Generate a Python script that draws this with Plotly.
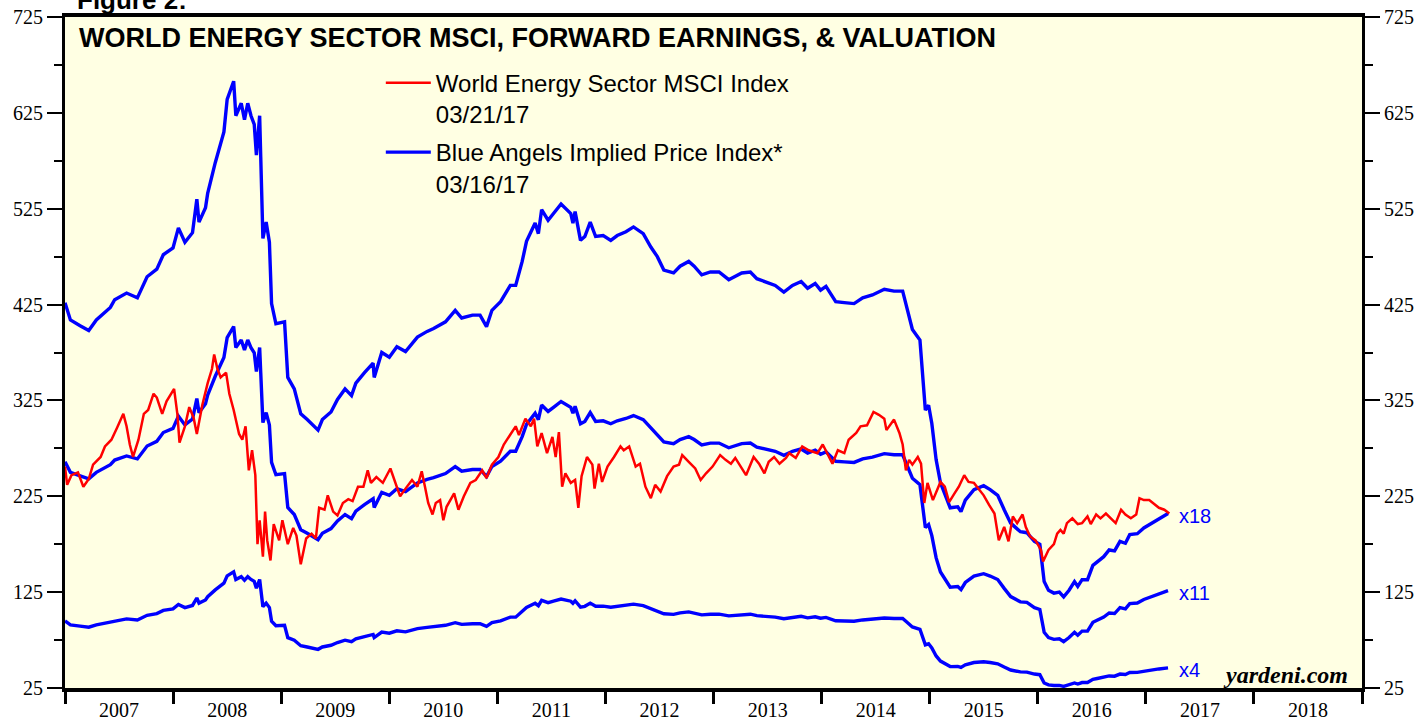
import datetime as dt
import plotly.graph_objects as go

# ---------------- data ----------------
# Blue Angels implied price index at 18x forward earnings (index units), decimal years
blue_t = [2007.00, 2007.05, 2007.14, 2007.22, 2007.29, 2007.42, 2007.46, 2007.57, 2007.67, 2007.76,
          2007.85, 2007.91, 2008.00, 2008.05, 2008.11, 2008.18, 2008.22, 2008.24, 2008.30, 2008.32,
          2008.39, 2008.47, 2008.50, 2008.56, 2008.58, 2008.63, 2008.66, 2008.69, 2008.72, 2008.75,
          2008.77, 2008.80, 2008.81, 2008.83, 2008.86, 2008.89, 2008.91, 2008.95, 2009.03, 2009.06,
          2009.12, 2009.18, 2009.24, 2009.34, 2009.38, 2009.46, 2009.52, 2009.59, 2009.65, 2009.69,
          2009.77, 2009.85, 2009.86, 2009.93, 2010.00, 2010.07, 2010.15, 2010.26, 2010.35, 2010.41,
          2010.52, 2010.61, 2010.67, 2010.77, 2010.84, 2010.90, 2010.95, 2011.03, 2011.12, 2011.17,
          2011.23, 2011.27, 2011.35, 2011.38, 2011.41, 2011.47, 2011.52, 2011.59, 2011.68, 2011.70,
          2011.72, 2011.77, 2011.81, 2011.86, 2011.91, 2011.98, 2012.05, 2012.11, 2012.19, 2012.26,
          2012.35, 2012.42, 2012.48, 2012.54, 2012.63, 2012.69, 2012.77, 2012.82, 2012.89, 2012.97,
          2013.05, 2013.14, 2013.26, 2013.34, 2013.40, 2013.48, 2013.57, 2013.65, 2013.73, 2013.81,
          2013.87, 2013.94, 2013.99, 2014.04, 2014.13, 2014.21, 2014.30, 2014.38, 2014.47, 2014.58,
          2014.67, 2014.75, 2014.78, 2014.84, 2014.91, 2014.93, 2014.96, 2014.99, 2015.02, 2015.06,
          2015.10, 2015.19, 2015.26, 2015.29, 2015.33, 2015.41, 2015.50, 2015.56, 2015.63, 2015.69,
          2015.75, 2015.84, 2015.90, 2015.97, 2016.02, 2016.06, 2016.10, 2016.15, 2016.20, 2016.24,
          2016.29, 2016.34, 2016.37, 2016.41, 2016.46, 2016.51, 2016.55, 2016.61, 2016.66, 2016.71,
          2016.76, 2016.81, 2016.85, 2016.92, 2016.98, 2017.05, 2017.12, 2017.204]
blue_x18 = [427, 409, 403, 398, 409, 422, 430, 437, 432, 454,
            462, 477, 484, 505, 490, 500, 535, 511, 526, 541,
            573, 605, 639, 658, 622, 635, 618, 635, 622, 613,
            581, 622, 579, 494, 511, 490, 426, 405, 407, 349,
            337, 311, 305, 294, 305, 313, 326, 337, 330, 343,
            354, 364, 349, 375, 370, 381, 376, 391, 397, 400,
            407, 419, 411, 414, 414, 402, 419, 428, 445, 445,
            470, 491, 510, 499, 524, 513, 520, 530, 520, 510,
            522, 492, 496, 511, 496, 497, 492, 497, 501, 506,
            499, 485, 475, 461, 458, 465, 470, 465, 456, 459,
            459, 451, 458, 459, 452, 449, 445, 438, 445, 449,
            442, 447, 440, 444, 428, 427, 426, 432, 435, 441,
            439, 439, 426, 399, 388, 357, 315, 320, 301, 263,
            239, 213, 214, 209, 221, 232, 236, 232, 226, 211,
            197, 188, 187, 178, 175, 136, 127, 124, 125, 120,
            127, 136, 131, 138, 138, 153, 157, 162, 169, 168,
            178, 176, 185, 186, 192, 197, 202, 207]
multipliers = [18, 11, 4]
mult_labels = ["x18", "x11", "x4"]

# World Energy Sector MSCI index
red_t = [2007.00, 2007.02, 2007.06, 2007.12, 2007.17, 2007.22, 2007.26, 2007.33, 2007.37, 2007.43,
         2007.48, 2007.54, 2007.57, 2007.60, 2007.63, 2007.68, 2007.73, 2007.77, 2007.82, 2007.85,
         2007.90, 2007.94, 2008.01, 2008.04, 2008.06, 2008.11, 2008.15, 2008.19, 2008.22, 2008.27,
         2008.32, 2008.36, 2008.38, 2008.41, 2008.44, 2008.49, 2008.52, 2008.56, 2008.61, 2008.64,
         2008.67, 2008.70, 2008.73, 2008.76, 2008.78, 2008.80, 2008.83, 2008.85, 2008.87, 2008.90,
         2008.93, 2008.98, 2009.01, 2009.06, 2009.11, 2009.14, 2009.18, 2009.23, 2009.28, 2009.32,
         2009.35, 2009.40, 2009.43, 2009.48, 2009.52, 2009.57, 2009.62, 2009.66, 2009.71, 2009.76,
         2009.80, 2009.83, 2009.88, 2009.94, 2010.01, 2010.06, 2010.10, 2010.15, 2010.21, 2010.26,
         2010.30, 2010.33, 2010.36, 2010.40, 2010.43, 2010.47, 2010.50, 2010.53, 2010.60, 2010.64,
         2010.69, 2010.75, 2010.80, 2010.86, 2010.90, 2010.95, 2011.01, 2011.06, 2011.10, 2011.17,
         2011.20, 2011.26, 2011.31, 2011.34, 2011.37, 2011.41, 2011.46, 2011.51, 2011.54, 2011.57,
         2011.60, 2011.63, 2011.68, 2011.72, 2011.75, 2011.78, 2011.83, 2011.88, 2011.90, 2011.94,
         2011.97, 2012.02, 2012.08, 2012.14, 2012.17, 2012.22, 2012.28, 2012.32, 2012.37, 2012.42,
         2012.46, 2012.51, 2012.57, 2012.63, 2012.68, 2012.71, 2012.77, 2012.83, 2012.88, 2012.93,
         2012.99, 2013.06, 2013.11, 2013.16, 2013.20, 2013.30, 2013.37, 2013.42, 2013.47, 2013.51,
         2013.56, 2013.61, 2013.67, 2013.70, 2013.76, 2013.82, 2013.88, 2013.96, 2014.01, 2014.05,
         2014.10, 2014.15, 2014.21, 2014.25, 2014.32, 2014.36, 2014.42, 2014.48, 2014.53, 2014.58,
         2014.60, 2014.67, 2014.72, 2014.75, 2014.78, 2014.81, 2014.84, 2014.89, 2014.92, 2014.95,
         2014.98, 2015.03, 2015.07, 2015.10, 2015.14, 2015.18, 2015.23, 2015.27, 2015.32, 2015.36,
         2015.41, 2015.46, 2015.50, 2015.55, 2015.60, 2015.64, 2015.69, 2015.73, 2015.77, 2015.81,
         2015.86, 2015.89, 2015.93, 2015.98, 2016.03, 2016.05, 2016.10, 2016.15, 2016.18, 2016.21,
         2016.24, 2016.27, 2016.32, 2016.37, 2016.41, 2016.46, 2016.49, 2016.54, 2016.58, 2016.63,
         2016.68, 2016.72, 2016.77, 2016.81, 2016.86, 2016.91, 2016.94, 2016.98, 2017.03, 2017.08,
         2017.12, 2017.17, 2017.216]
red_v = [256, 237, 247, 250, 235, 243, 258, 266, 277, 284,
         296, 311, 298, 279, 266, 284, 311, 315, 332, 328,
         311, 324, 337, 311, 281, 298, 318, 307, 290, 320,
         343, 358, 373, 358, 349, 354, 332, 315, 290, 284,
         298, 252, 273, 247, 175, 200, 162, 209, 179, 158,
         196, 179, 200, 175, 192, 184, 154, 181, 186, 181,
         213, 211, 226, 209, 205, 218, 222, 220, 235, 235,
         252, 239, 245, 239, 254, 239, 225, 233, 242, 235,
         251, 235, 218, 206, 218, 221, 200, 214, 228, 211,
         225, 239, 242, 252, 244, 258, 266, 279, 286, 298,
         289, 306, 298, 306, 277, 291, 270, 287, 266, 292,
         235, 249, 239, 242, 213, 246, 266, 258, 233, 259,
         240, 256, 266, 277, 273, 277, 256, 259, 235, 223,
         237, 230, 246, 256, 258, 268, 261, 254, 242, 249,
         256, 268, 263, 259, 265, 247, 266, 259, 249, 261,
         266, 259, 265, 270, 265, 277, 273, 270, 279, 270,
         259, 273, 270, 284, 291, 298, 299, 313, 310, 306,
         294, 305, 291, 279, 252, 263, 258, 266, 259, 218,
         239, 221, 232, 240, 235, 219, 228, 235, 247, 240,
         239, 232, 226, 216, 207, 179, 193, 178, 204, 197,
         206, 193, 183, 179, 169, 157, 169, 175, 186, 190,
         186, 197, 202, 196, 197, 204, 196, 206, 202, 207,
         202, 197, 211, 206, 202, 206, 223, 221, 221, 216,
         213, 211, 207]

red_name = "World Energy Sector MSCI Index<br>03/21/17"
blue_name = "Blue Angels Implied Price Index*<br>03/16/17"
y_ticks = [25, 125, 225, 325, 425, 525, 625, 725]
title_text = "WORLD ENERGY SECTOR MSCI, FORWARD EARNINGS, & VALUATION"


def dec_to_date(y):
    yr = int(y)
    s = dt.datetime(yr, 1, 1)
    e = dt.datetime(yr + 1, 1, 1)
    return s + (e - s) * (y - yr)


blue_dates = [dec_to_date(t) for t in blue_t]
red_dates = [dec_to_date(t) for t in red_t]

BLUE = "#0000FF"
RED = "#FF0000"
SANS = "Liberation Sans, Arial, Helvetica, sans-serif"
SERIF = "Liberation Serif, Times New Roman, serif"

fig = go.Figure()

for i, m in enumerate(multipliers):
    vals = [v * m / 18.0 for v in blue_x18]
    fig.add_trace(go.Scatter(
        x=blue_dates, y=vals, mode="lines",
        line=dict(color=BLUE, width=3.4),
        name=blue_name, showlegend=(i == 0), legendrank=2, legendgroup="b",
        hoverinfo="skip"))
    fig.add_annotation(x=blue_dates[-1], y=vals[-1], text=mult_labels[i],
                       xref="x", yref="y", xanchor="left", yanchor="middle",
                       xshift=9, yshift=-2, showarrow=False,
                       font=dict(family=SANS, size=20, color=BLUE))

fig.add_trace(go.Scatter(
    x=red_dates, y=red_v, mode="lines",
    line=dict(color=RED, width=2.5),
    name=red_name, legendrank=1, legendgroup="a", hoverinfo="skip"))

# dummy trace on right axis so it renders
fig.add_trace(go.Scatter(x=[red_dates[0]], y=[red_v[0]], yaxis="y2", mode="lines",
                         line=dict(color="rgba(0,0,0,0)"), showlegend=False, hoverinfo="skip"))

yax = dict(range=[25, 725], tickvals=y_ticks, ticks="outside", ticklen=15, tickwidth=2,
           tickcolor="black", showline=True, linecolor="black", linewidth=3,
           showgrid=False, zeroline=False,
           tickfont=dict(family=SERIF, size=20, color="black"),
           minor=dict(ticks="outside", ticklen=8, tickwidth=2, tickcolor="black",
                      dtick=50, tick0=25, showgrid=False))

fig.update_layout(
    width=1420, height=721,
    margin=dict(l=65, r=58, t=17, b=33, autoexpand=False),
    paper_bgcolor="white", plot_bgcolor="#FFFFE3",
    xaxis=dict(type="date", range=["2007-01-01", "2019-01-01"],
               tick0="2007-01-01", dtick="M12", tickformat="%Y", ticklabelmode="period",
               ticks="outside", ticklen=12, tickwidth=2.5, tickcolor="black",
               ticklabelstandoff=-11,
               showline=True, linecolor="black", linewidth=3.5, mirror=True,
               showgrid=False, zeroline=False, automargin=False,
               tickfont=dict(family=SERIF, size=20, color="black")),
    yaxis=dict(side="left", automargin=False, **yax),
    yaxis2=dict(side="right", overlaying="y", automargin=False, **yax),
    showlegend=True,
    legend=dict(x=0.2435, y=0.935, xanchor="left", yanchor="top",
                bgcolor="rgba(0,0,0,0)", borderwidth=0, valign="top",
                tracegroupgap=4, traceorder="grouped", itemwidth=45,
                font=dict(family=SANS, size=24, color="black")),
)

fig.add_annotation(xref="paper", yref="paper", x=0, y=1, xanchor="left", yanchor="top",
                   xshift=12, yshift=-4, showarrow=False,
                   text="<b>" + title_text + "</b>",
                   font=dict(family=SANS, size=27, color="black"))
fig.add_annotation(xref="paper", yref="paper", x=0, y=1.026, xanchor="left", yanchor="middle",
                   xshift=10, showarrow=False, text="<b>Figure 2:</b>",
                   font=dict(family=SANS, size=26, color="black"))
fig.add_annotation(xref="paper", yref="paper", x=1, y=0, xanchor="right", yanchor="bottom",
                   xshift=-12, yshift=-2, showarrow=False, text="<b><i>yardeni.com</i></b>",
                   font=dict(family=SERIF, size=24, color="black"))

fig.write_html("out.html", config={"displayModeBar": False},
               post_script="document.body.style.margin='0px';document.body.style.overflow='hidden';")
